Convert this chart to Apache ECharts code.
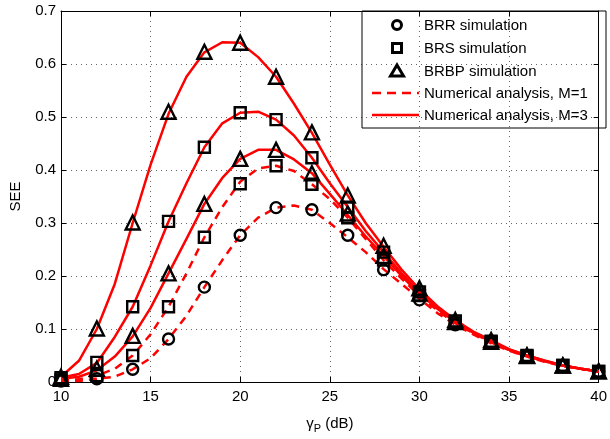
<!DOCTYPE html>
<html><head><meta charset="utf-8">
<script src="https://cdn.jsdelivr.net/npm/echarts@6/dist/echarts.min.js"></script>
<style>html,body{margin:0;padding:0;background:#fff}#c{width:610px;height:439px}</style>
</head><body><div id="c"></div>
<script>
// Line (numerical) x-values, 1 dB steps
const xLine = [10,11,12,13,14,15,16,17,18,19,20,21,22,23,24,25,26,27,28,29,30,31,32,33,34,35,36,37,38,39,40];
// Simulation x-values, 2 dB steps
const xSim = [10,12,14,16,18,20,22,24,26,28,30,32,34,36,38,40];

// Numerical analysis curves
const lineA = [0.01,0.04,0.1,0.185,0.3,0.41,0.506,0.576,0.622,0.641,0.64,0.613,0.576,0.525,0.47,0.41,0.352,0.3,0.255,0.212,0.175,0.143,0.117,0.095,0.079,0.062,0.05,0.04,0.031,0.025,0.02];
const lineB = [0.008,0.015,0.036,0.085,0.142,0.22,0.303,0.375,0.443,0.488,0.508,0.51,0.495,0.465,0.423,0.375,0.33,0.285,0.245,0.205,0.17,0.14,0.115,0.094,0.077,0.061,0.05,0.04,0.031,0.025,0.02];
const lineC = [0.006,0.01,0.022,0.048,0.086,0.14,0.205,0.27,0.336,0.385,0.421,0.438,0.438,0.42,0.394,0.355,0.315,0.275,0.238,0.2,0.167,0.138,0.113,0.093,0.076,0.061,0.049,0.039,0.031,0.025,0.02];
const lineD = [0.004,0.005,0.012,0.025,0.05,0.09,0.142,0.205,0.273,0.33,0.378,0.403,0.408,0.398,0.373,0.345,0.31,0.27,0.23,0.195,0.163,0.135,0.111,0.092,0.075,0.06,0.048,0.039,0.031,0.025,0.02];
const lineE = [0.002,0.002,0.006,0.01,0.024,0.045,0.081,0.125,0.179,0.23,0.277,0.31,0.329,0.333,0.325,0.3,0.273,0.245,0.213,0.185,0.157,0.13,0.108,0.09,0.073,0.059,0.048,0.038,0.03,0.025,0.02];

// Simulation markers
const simA = [0.01,0.101,0.301,0.51,0.623,0.64,0.576,0.471,0.352,0.257,0.177,0.117,0.079,0.05,0.031,0.02];
const simB = [0.008,0.037,0.142,0.303,0.443,0.508,0.495,0.423,0.33,0.245,0.17,0.115,0.077,0.05,0.031,0.02];
const simC = [0.006,0.025,0.087,0.205,0.336,0.421,0.438,0.394,0.318,0.238,0.167,0.113,0.076,0.049,0.031,0.02];
const simD = [0.004,0.012,0.05,0.142,0.273,0.374,0.408,0.373,0.31,0.23,0.163,0.111,0.075,0.048,0.031,0.02];
const simE = [0.002,0.006,0.024,0.081,0.179,0.277,0.329,0.325,0.277,0.212,0.155,0.108,0.073,0.048,0.03,0.02];

const legendNames = ['BRR simulation','BRS simulation','BRBP simulation','Numerical analysis, M=1','Numerical analysis, M=3'];

const pair = (xs, ys) => xs.map((x,i)=>[x, ys[i]]);
const FONT = 'Liberation Sans, Arial, sans-serif';
const MW = 2.4;

function lineSeries(name, ys, dashed){
  return {type:'line', name, data: pair(xLine, ys), symbol:'none', smooth:false,
    lineStyle:{color:'#ff0000', width:2.5, type: dashed ? [8,6] : 'solid'},
    itemStyle:{color:'#ff0000'}, z:2, animation:false};
}
function simSeries(name, ys, sym, size){
  return {type:'scatter', name, data: pair(xSim, ys), symbol: sym, symbolSize: size,
    itemStyle:{color:'rgba(0,0,0,0)', borderColor:'#000', borderWidth:MW, opacity:1}, z:3, animation:false};
}

// Legend drawn as graphic elements
const LX = 362, LY = 11, LW = 244, LH = 117;
const rowY = [25, 48, 71, 93, 115];
const mx = 397, textX = 424;
const legendChildren = [
  {type:'rect', shape:{x:LX, y:LY, width:LW, height:LH}, style:{fill:'#fff', stroke:'#000', lineWidth:1}},
  {type:'circle', shape:{cx:mx, cy:rowY[0], r:4.5}, style:{fill:'none', stroke:'#000', lineWidth:MW+0.6}},
  {type:'rect', shape:{x:mx-4.5, y:rowY[1]-4.5, width:9, height:9}, style:{fill:'none', stroke:'#000', lineWidth:MW+0.6}},
  {type:'polygon', shape:{points:[[mx, rowY[2]-6],[mx+6.5, rowY[2]+5],[mx-6.5, rowY[2]+5]]}, style:{fill:'none', stroke:'#000', lineWidth:MW+0.6}},
  {type:'line', shape:{x1:372, y1:rowY[3], x2:419, y2:rowY[3]}, style:{stroke:'#ff0000', lineWidth:2.5, lineDash:[9,6]}},
  {type:'line', shape:{x1:372, y1:rowY[4], x2:419, y2:rowY[4]}, style:{stroke:'#ff0000', lineWidth:2.5}}
];
legendNames.forEach((n,i)=>{
  legendChildren.push({type:'text', x:textX, y:rowY[i]+1, style:{text:n, font:'15px '+FONT, fill:'#000', verticalAlign:'middle'}});
});

const chart = echarts.init(document.getElementById('c'), null, {renderer:'canvas'});
const axLine = {show:true, onZero:false, lineStyle:{color:'#000', width:1}};
const axTick = {show:true, inside:true, length:5, lineStyle:{color:'#000'}};
const gridLine = {show:true, lineStyle:{color:'#000', type:[1,4], width:1, opacity:0.6}};
chart.setOption({
  animation:false,
  backgroundColor:'#fff',
  grid:{left:57, right:6, top:11, bottom:49, show:false},
  xAxis:[
    {type:'value', min:10, max:40, interval:5, position:'bottom', axisLine:axLine, axisTick:axTick,
      axisLabel:{fontFamily:FONT, fontSize:15, color:'#000', margin:7},
      name:'{g|γ}{s|P}{g| (dB)}', nameLocation:'middle', nameGap:31,
      nameTextStyle:{rich:{g:{fontFamily:FONT, fontSize:15, color:'#000'}, s:{fontFamily:FONT, fontSize:11, color:'#000', padding:[10,0,0,0]}}},
      splitLine:gridLine},
    {type:'value', min:10, max:40, interval:5, position:'top', axisLine:axLine, axisTick:axTick, axisLabel:{show:false}, splitLine:{show:false}}
  ],
  yAxis:[
    {type:'value', min:0, max:0.7, interval:0.1, position:'left', axisLine:axLine, axisTick:axTick,
      axisLabel:{fontFamily:FONT, fontSize:15, color:'#000', margin:5, formatter:v=>String(Math.round(v*10)/10)},
      name:'SEE', nameLocation:'middle', nameGap:38, nameRotate:90,
      nameTextStyle:{fontFamily:FONT, fontSize:15, color:'#000'},
      splitLine:gridLine},
    {type:'value', min:0, max:0.7, interval:0.1, position:'right', axisLine:axLine, axisTick:axTick, axisLabel:{show:false}, splitLine:{show:false}}
  ],
  graphic:[{type:'group', z:100, children:legendChildren}],
  series:[
    lineSeries(legendNames[4], lineA, false),
    lineSeries(legendNames[4], lineB, false),
    lineSeries(legendNames[4], lineC, false),
    lineSeries(legendNames[3], lineD, true),
    lineSeries(legendNames[3], lineE, true),
    simSeries(legendNames[2], simA, 'triangle', 14),
    simSeries(legendNames[1], simB, 'rect', 11),
    simSeries(legendNames[2], simC, 'triangle', 14),
    simSeries(legendNames[1], simD, 'rect', 11),
    simSeries(legendNames[0], simE, 'circle', 11)
  ]
});
</script></body></html>
